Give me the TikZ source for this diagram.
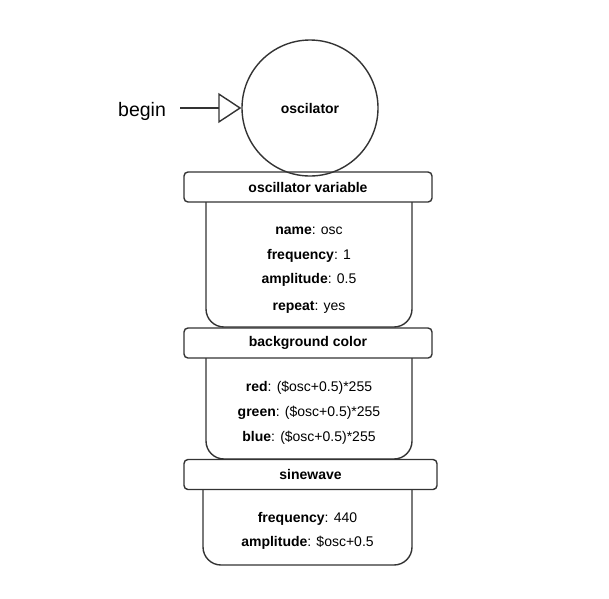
\documentclass[tikz,border=0pt]{standalone}
\usepackage{fontspec}
\setmainfont{Liberation Sans}
\usetikzlibrary{arrows.meta}
\begin{document}
\begin{tikzpicture}[x=1pt,y=-1pt,
  ink/.style={draw=black!80,line width=1.4pt},
  header/.style={ink,rounded corners=4pt,minimum height=30pt,inner sep=0pt,
    font=\fontsize{14}{16}\selectfont\bfseries},
  field/.style={inner sep=0pt,text height=10pt,text depth=3pt,
    font=\fontsize{14}{16}\selectfont},
  bodybox/.style={ink,rounded corners=18pt},
  state/.style={ink,circle,minimum size=136pt,inner sep=0pt,
    font=\fontsize{14}{16}\selectfont\bfseries},
  entry/.style={ink,-{Triangle[open,length=23pt,width=30pt,line width=1.4pt]}}
]
\useasboundingbox (0,0) rectangle (609,598);

% start state and entry arrow
\node[state] (osc) at (310,108) {oscilator};
\node[inner sep=0pt,font=\fontsize{19.5}{22}\selectfont,anchor=west] (begin) at (118,111) {begin};
\draw[entry,shorten <=14pt] (begin.east |- osc.west) -- (osc.west);

% oscillator variable block
\node[header,minimum width=248pt] (hvar) at (308,187) {oscillator variable};
\draw[bodybox] (206,202) -- (206,327) -- (412,327) -- (412,202);
\node[field] (vname) at (309,230.5) {\textbf{name}: osc};
\node[field] (vfreq) at (309,255.5) {\textbf{frequency}: 1};
\node[field] (vamp)  at (309,280) {\textbf{amplitude}: 0.5};
\node[field] (vrep)  at (309,307) {\textbf{repeat}: yes};

% background color block
\node[header,minimum width=248pt] (hbg) at (308,343) {background color};
\draw[bodybox] (206,358) -- (206,459) -- (412,459) -- (412,358);
\node[field] (bred)   at (309,388) {\textbf{red}: (\$osc+0.5)*255};
\node[field] (bgreen) at (309,413) {\textbf{green}: (\$osc+0.5)*255};
\node[field] (bblue)  at (309,438) {\textbf{blue}: (\$osc+0.5)*255};

% sinewave block
\node[header,minimum width=253pt] (hsine) at (310.5,474.5) {sinewave};
\draw[bodybox] (203,489) -- (203,565) -- (412,565) -- (412,489);
\node[field] (sfreq) at (307.5,519) {\textbf{frequency}: 440};
\node[field] (samp)  at (307.5,543) {\textbf{amplitude}: \$osc+0.5};
\end{tikzpicture}
\end{document}
